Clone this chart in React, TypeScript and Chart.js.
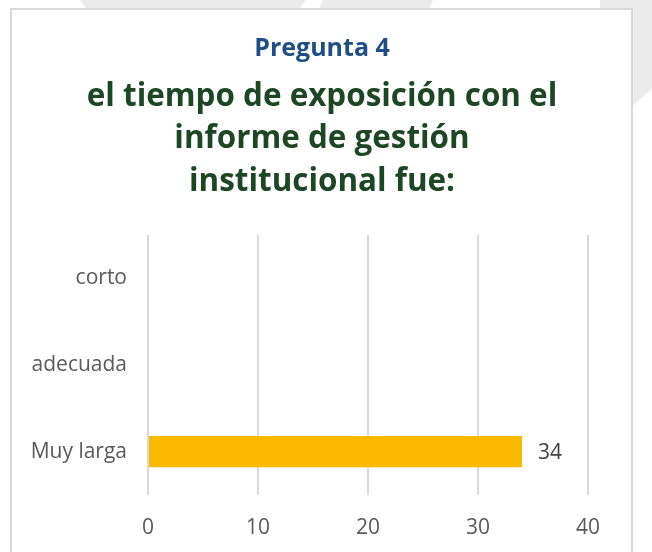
import React, { useEffect, useRef } from "react";
import { Chart, registerables } from "chart.js";

Chart.register(...registerables);

const categories = ["corto", "adecuada", "Muy larga"];
const values: (number | null)[] = [null, null, 34];
const xTicks = [0, 10, 20, 30, 40];
const preTitle = "Pregunta 4";
const titleLines = ["el tiempo de exposición con el", "informe de gestión", "institucional fue:"];

const FONT = "'Open Sans', 'Noto Sans', sans-serif";

const valueLabels = {
  id: "valueLabels",
  afterDatasetsDraw(chart: any) {
    const ctx = chart.ctx;
    const meta = chart.getDatasetMeta(0);
    meta.data.forEach((bar: any, i: number) => {
      const v = values[i];
      if (v == null) return;
      ctx.save();
      ctx.font = `21px ${FONT}`;
      ctx.fillStyle = "#404040";
      ctx.textAlign = "left";
      ctx.textBaseline = "middle";
      ctx.fillText(String(v), bar.x + 16, bar.y + 1);
      ctx.restore();
    });
  },
};

export default function App() {
  const ref = useRef<HTMLCanvasElement | null>(null);

  useEffect(() => {
    if (!ref.current) return;
    const chart = new Chart(ref.current, {
      type: "bar",
      data: {
        labels: categories,
        datasets: [
          {
            data: values as any,
            backgroundColor: "#FBB900",
            borderWidth: 0,
            barPercentage: 0.45,
            categoryPercentage: 0.8,
          },
        ],
      },
      plugins: [valueLabels],
      options: {
        indexAxis: "y",
        animation: false,
        responsive: false,
        devicePixelRatio: 1,
        layout: { padding: { left: 0, right: 8, top: 0, bottom: 0 } },
        plugins: {
          legend: { display: false },
          tooltip: { enabled: false },
          title: {
            display: true,
            text: preTitle,
            color: "#1F4E85",
            font: { family: FONT, size: 25, weight: "bold", lineHeight: 1.2 },
            padding: { top: 34, bottom: 0 },
          },
          subtitle: {
            display: true,
            text: titleLines,
            color: "#1D4723",
            font: { family: FONT, size: 31.4, weight: "bold", lineHeight: 1.355 },
            padding: { top: 11.7, bottom: 31.5 },
          },
        },
        scales: {
          x: {
            type: "linear",
            min: 0,
            max: 40,
            afterBuildTicks: (scale: any) => {
              scale.ticks = xTicks.map((v) => ({ value: v }));
            },
            afterFit: (scale: any) => {
              scale.height = 57;
            },
            grid: { color: "#D9D9D9", lineWidth: 2, drawTicks: false },
            border: { display: false },
            ticks: {
              color: "#595959",
              font: { family: FONT, size: 21 },
              padding: 20,
            },
          },
          y: {
            type: "category",
            afterFit: (scale: any) => {
              scale.width = 148;
            },
            grid: { display: false, drawTicks: false },
            border: { display: false },
            ticks: {
              color: "#595959",
              font: { family: FONT, size: 21 },
              padding: 21,
            },
          },
          yRight: {
            type: "category",
            position: "right",
            labels: categories,
            afterFit: (scale: any) => {
              scale.width = 56;
            },
            grid: { display: false, drawTicks: false },
            border: { display: false },
            ticks: { display: false },
          },
        },
      },
    });
    return () => chart.destroy();
  }, []);

  return (
    <div
      style={{
        position: "fixed",
        left: 0,
        top: 0,
        width: 652,
        height: 552,
        background: "#ffffff",
        overflow: "hidden",
      }}
    >
      <div
        style={{
          position: "absolute",
          left: 80,
          top: 0,
          width: 226,
          height: 12,
          background: "#EBEBEB",
          clipPath: "polygon(0 0, 100% 0, 96% 100%, 4% 100%)",
        }}
      />
      <div
        style={{
          position: "absolute",
          left: 318,
          top: 0,
          width: 115,
          height: 12,
          background: "#EBEBEB",
          clipPath: "polygon(4% 0, 100% 0, 96% 100%, 0 100%)",
        }}
      />
      <div
        style={{
          position: "absolute",
          left: 600,
          top: 0,
          width: 52,
          height: 120,
          background: "#EBEBEB",
          clipPath: "polygon(0 0, 100% 0, 100% 74%, 58% 90%, 0 90%)",
        }}
      />
      <div
        style={{
          position: "absolute",
          left: 10,
          top: 8,
          width: 619,
          height: 560,
          background: "#ffffff",
          border: "2px solid #D9D9D9",
        }}
      />
      <canvas
        ref={ref}
        width={652}
        height={552}
        style={{ position: "absolute", left: 0, top: 0, width: 652, height: 552 }}
      />
    </div>
  );
}
